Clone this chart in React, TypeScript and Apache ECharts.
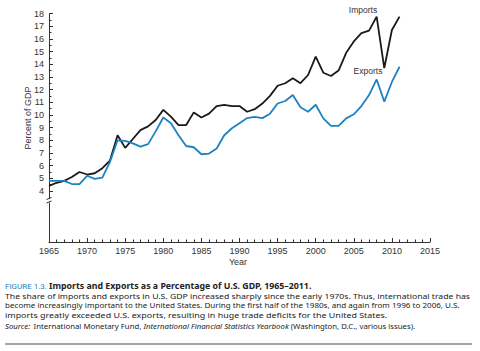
import React, { useEffect, useRef } from "react";
import * as echarts from "echarts";

const years: number[] = Array.from({ length: 47 }, (_, i) => 1965 + i);

const imports: number[] = [
  4.4, 4.65, 4.8, 5.1, 5.5, 5.3, 5.4, 5.8, 6.4, 8.4,
  7.4, 8.1, 8.8, 9.1, 9.6, 10.4, 9.86, 9.2, 9.2, 10.2,
  9.8, 10.1, 10.7, 10.8, 10.7, 10.7, 10.25, 10.45, 10.9, 11.5,
  12.3, 12.5, 12.9, 12.5, 13.15, 14.6, 13.33, 13.07, 13.5, 14.9,
  15.8, 16.45, 16.65, 17.75, 13.7, 16.7, 17.75,
];

const exportsData: number[] = [
  4.8, 4.8, 4.8, 4.55, 4.55, 5.2, 4.95, 5.05, 6.3, 8.0,
  7.95, 7.75, 7.5, 7.7, 8.7, 9.8, 9.35, 8.4, 7.55, 7.45,
  6.9, 6.95, 7.35, 8.4, 8.95, 9.35, 9.75, 9.85, 9.75, 10.1,
  10.9, 11.1, 11.57, 10.6, 10.25, 10.8, 9.73, 9.13, 9.13, 9.73,
  10.05, 10.7, 11.57, 12.8, 11.05, 12.6, 13.8,
];

const xMin = 1965;
const xMax = 2015;
const yMin = 4;
const yMax = 18;

const captionLines: string[] = [
  "The share of imports and exports in U.S. GDP increased sharply since the early 1970s. Thus, international trade has",
  "become increasingly important to the United States. During the first half of the 1980s, and again from 1996 to 2006, U.S.",
  "imports greatly exceeded U.S. exports, resulting in huge trade deficits for the United States.",
];

export default function App() {
  const ref = useRef<HTMLDivElement>(null);
  useEffect(() => {
    if (!ref.current) return;
    const chart = echarts.init(ref.current, undefined, { renderer: "svg" });
    const axisColor = "#333";
    const labelFont = "Liberation Sans, Arial, sans-serif";
    const bodyFont = "'Noto Sans', Lato, sans-serif";
    chart.setOption({
      animation: false,
      backgroundColor: "#fff",
      grid: [
        { left: 49, right: 50, top: 13.5, bottom: 160 },
        { left: 49, right: 50, top: 191, bottom: 109 },
      ],
      xAxis: [
        { type: "value", gridIndex: 0, min: xMin, max: xMax, interval: 5, show: false },
        {
          type: "value",
          gridIndex: 1,
          min: xMin,
          max: xMax,
          interval: 5,
          axisLine: { show: true, lineStyle: { color: axisColor, width: 1 } },
          axisTick: { show: true, inside: true, length: 4, lineStyle: { color: axisColor } },
          minorTick: { show: true, splitNumber: 5, length: 2.5, lineStyle: { color: axisColor } },
          axisLabel: {
            color: axisColor,
            fontSize: 9,
            fontFamily: labelFont,
            margin: 4,
            formatter: (v: number) => String(v),
          },
          splitLine: { show: false },
        },
      ],
      yAxis: [
        {
          type: "value",
          gridIndex: 0,
          min: yMin,
          max: yMax,
          interval: 1,
          axisLine: { show: true, lineStyle: { color: axisColor, width: 1 } },
          axisTick: { show: true, inside: true, length: 4, lineStyle: { color: axisColor } },
          minorTick: { show: true, splitNumber: 2, length: 2.5, lineStyle: { color: axisColor } },
          axisLabel: { color: axisColor, fontSize: 9, fontFamily: labelFont, margin: 5 },
          splitLine: { show: false },
        },
        {
          type: "value",
          gridIndex: 1,
          min: 0,
          max: 1,
          axisLine: { show: true, onZero: false, lineStyle: { color: axisColor, width: 1 } },
          axisTick: { show: false },
          axisLabel: { show: false },
          splitLine: { show: false },
        },
      ],
      series: [
        {
          name: "Imports",
          type: "line",
          xAxisIndex: 0,
          yAxisIndex: 0,
          data: years.map((y, i) => [y, imports[i]]),
          symbol: "none",
          lineStyle: { color: "#1a1a1a", width: 1.8 },
        },
        {
          name: "Exports",
          type: "line",
          xAxisIndex: 0,
          yAxisIndex: 0,
          data: years.map((y, i) => [y, exportsData[i]]),
          symbol: "none",
          lineStyle: { color: "#1f82c0", width: 1.8 },
        },
      ],
      graphic: [
        // axis break mark
        { type: "rect", shape: { x: 46, y: 199, width: 6, height: 3.5 }, style: { fill: "#fff" }, z: 100 },
        { type: "line", shape: { x1: 46.5, y1: 199.5, x2: 51.5, y2: 197.5 }, style: { stroke: axisColor, lineWidth: 1 }, z: 101 },
        { type: "line", shape: { x1: 46.5, y1: 203, x2: 51.5, y2: 201 }, style: { stroke: axisColor, lineWidth: 1 }, z: 101 },
        // series labels
        { type: "text", x: 363, y: 10, style: { text: "Imports", fill: "#333", font: `8.5px ${labelFont}`, align: "center", verticalAlign: "middle" } },
        { type: "text", x: 368, y: 71, style: { text: "Exports", fill: "#333", font: `8.5px ${labelFont}`, align: "center", verticalAlign: "middle" } },
        // axis names
        { type: "text", x: 28, y: 118, rotation: Math.PI / 2, style: { text: "Percent of GDP", fill: "#333", font: `9px ${labelFont}`, align: "center", verticalAlign: "middle" } },
        { type: "text", x: 238, y: 262, style: { text: "Year", fill: "#333", font: `9px ${labelFont}`, align: "center", verticalAlign: "middle" } },
        // caption
        { type: "text", x: 5, y: 286, style: { text: "FIGURE 1.3.", fill: "#2a7fc0", font: `8px 'Liberation Sans Narrow', 'Roboto', sans-serif`, verticalAlign: "middle" } },
        { type: "text", x: 49, y: 286, style: { text: "Imports and Exports as a Percentage of U.S. GDP, 1965\u20132011.", fill: "#222", font: `bold 8.8px ${bodyFont}`, verticalAlign: "middle" } },
        { type: "text", x: 5, y: 296, scaleX: 1.155, style: { text: captionLines[0], fill: "#222", font: `7.5px ${bodyFont}`, verticalAlign: "middle" } },
        { type: "text", x: 5, y: 305.2, scaleX: 1.078, style: { text: captionLines[1], fill: "#222", font: `7.5px ${bodyFont}`, verticalAlign: "middle" } },
        { type: "text", x: 5, y: 314.4, scaleX: 1.19, style: { text: captionLines[2], fill: "#222", font: `7.5px ${bodyFont}`, verticalAlign: "middle" } },
        {
          type: "text",
          x: 5,
          y: 325.5,
          style: {
            text: "{i|Source:} {r|International Monetary Fund, }{i|International Financial Statistics Yearbook}{r| (Washington, D.C., various issues).}",
            verticalAlign: "middle",
            rich: {
              i: { fontStyle: "italic", fontSize: 7.8, fontFamily: bodyFont, fill: "#222", color: "#222" },
              r: { fontSize: 7.8, fontFamily: bodyFont, fill: "#222", color: "#222" },
            },
          },
        },
        { type: "line", shape: { x1: 5, y1: 344, x2: 472, y2: 344 }, style: { stroke: "#8a8a8a", lineWidth: 1.5 } },
      ],
    });
    return () => chart.dispose();
  }, []);
  return (
    <div
      ref={ref}
      style={{ position: "fixed", left: 0, top: 0, width: 480, height: 351, background: "#fff" }}
    />
  );
}
